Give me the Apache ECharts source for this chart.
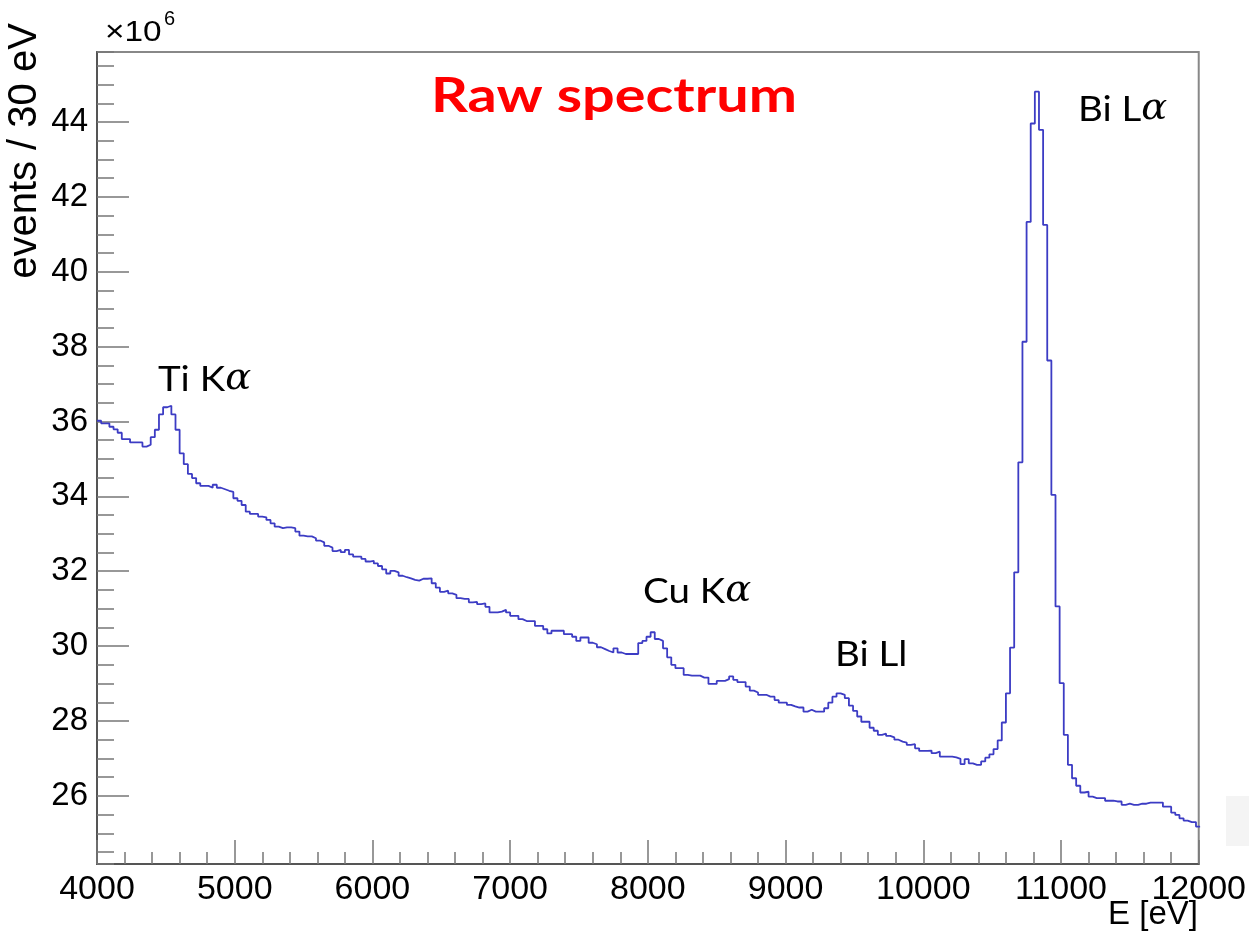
<!DOCTYPE html>
<html>
<head>
<meta charset="utf-8">
<script src="https://cdn.jsdelivr.net/npm/echarts@6/dist/echarts.min.js"></script>
<style>
  html, body { margin: 0; padding: 0; background: #fff; }
  #main { width: 1249px; height: 939px; }
</style>
</head>
<body>
<div id="main"></div>
<script>
// histogram binning (eV)
var binStart = 4000;
var binWidth = 30;

// events per bin, in units of 10^6
var countsLow = [
  36.02, 35.95, 35.95, 35.86, 35.79, 35.70, 35.53, 35.53, 35.44, 35.44,
  35.44, 35.33, 35.38, 35.58, 35.78, 36.19, 36.38, 36.42, 36.19, 35.78,
  35.15, 34.86, 34.60, 34.49, 34.35, 34.28, 34.28, 34.23, 34.31, 34.23,
  34.19, 34.15, 34.12, 33.95, 33.88, 33.77, 33.59, 33.53, 33.53, 33.46,
  33.44, 33.37, 33.28, 33.19, 33.15, 33.17, 33.17, 33.15, 33.06, 32.95,
  32.93, 32.93, 32.88, 32.82, 32.77, 32.68, 32.63, 32.54, 32.57, 32.51,
  32.57, 32.45, 32.39, 32.39, 32.33, 32.26, 32.28, 32.21, 32.14, 32.05,
  31.94, 32.01, 31.97, 31.88, 31.84, 31.81, 31.77, 31.75, 31.80, 31.80,
  31.81, 31.68, 31.56, 31.45, 31.48, 31.41, 31.37, 31.28, 31.26, 31.26,
  31.17, 31.18, 31.12, 31.14, 31.05, 30.90, 30.90
];
var countsMid = [
  30.92, 30.97, 30.90, 30.81, 30.81, 30.72, 30.67, 30.67, 30.67, 30.54,
  30.54, 30.45, 30.34, 30.41, 30.41, 30.41, 30.32, 30.32, 30.25, 30.14,
  30.23, 30.23, 30.09, 30.05, 29.97, 29.92, 29.87, 29.83, 29.94, 29.83,
  29.79, 29.79, 29.79, 29.79, 30.08, 30.14, 30.25, 30.37, 30.19, 30.14,
  29.94, 29.70, 29.50, 29.41, 29.41, 29.23, 29.21, 29.21, 29.21, 29.16,
  29.16, 28.99, 28.99, 29.07, 29.07, 29.12, 29.19, 29.10, 29.04, 29.04,
  28.92, 28.81, 28.76, 28.70, 28.70, 28.65, 28.65, 28.56, 28.49, 28.49,
  28.43, 28.39, 28.36, 28.36, 28.25, 28.30, 28.25, 28.25, 28.25, 28.34,
  28.49, 28.65, 28.74, 28.70, 28.61, 28.41, 28.27, 28.12, 27.98, 27.98,
  27.82, 27.74, 27.63, 27.66, 27.60, 27.56, 27.50, 27.45, 27.42, 27.36
];
var countsHigh = [
  27.38, 27.27, 27.20, 27.20, 27.21, 27.14, 27.18, 27.05, 27.05, 27.05,
  27.03, 26.99, 26.85, 26.98, 26.87, 26.83, 26.83, 26.92, 27.02, 27.11,
  27.25, 27.48, 27.96, 28.74, 29.96, 31.97, 34.91, 38.13, 41.33, 43.96,
  44.81, 43.79, 41.25, 37.63, 34.04, 31.06, 29.01, 27.63, 26.83, 26.47,
  26.27, 26.09, 26.11, 25.98, 25.94, 25.94, 25.94, 25.87, 25.87, 25.85,
  25.85, 25.76, 25.79, 25.76, 25.76, 25.79, 25.79, 25.82, 25.82, 25.82,
  25.82, 25.71, 25.71, 25.55, 25.49, 25.40, 25.34, 25.30, 25.30, 25.18
];

// peak labels
var peakNames = ['Ti K{a|α}', 'Cu K{a|α}', 'Bi Ll', 'Bi L{a|α}'];
var peakPos = [[158, 380], [643, 592], [835, 655], [1078, 110]];

var counts = countsLow.concat(countsMid, countsHigh);
var histData = counts.map(function (v, i) { return [binStart + i * binWidth, v]; });
histData.push([binStart + counts.length * binWidth, counts[counts.length - 1]]);

var chart = echarts.init(document.getElementById('main'));

var tickColor = '#777';
var labelFont = '"Liberation Sans", Arial, sans-serif';

var graphics = [
  // faint box at the right edge of the original image
  { type: 'rect', shape: { x: 1226, y: 796, width: 23, height: 50 }, style: { fill: '#f4f4f4' }, z: -1 },
  { type: 'text', x: 614, y: 97, scaleX: 1.2, style: { text: 'Raw spectrum', font: 'bold 48px Lato, sans-serif', fill: '#ff0000', align: 'center', verticalAlign: 'middle' } },
  { type: 'text', x: 105, y: 33, scaleX: 1.15, style: { text: '×10', font: '29px ' + labelFont, fill: '#000', align: 'left', verticalAlign: 'middle' } },
  { type: 'text', x: 164, y: 19, style: { text: '6', font: '20px ' + labelFont, fill: '#000', align: 'left', verticalAlign: 'middle' } },
  { type: 'text', x: 25, y: 151, rotation: Math.PI / 2, style: { text: 'events / 30 eV', font: '40px ' + labelFont, fill: '#000', align: 'center', verticalAlign: 'middle' } },
  { type: 'text', x: 1198, y: 915, style: { text: 'E [eV]', font: '33px ' + labelFont, fill: '#000', align: 'right', verticalAlign: 'middle' } }
];
peakNames.forEach(function (t, i) {
  graphics.push({
    type: 'text', x: peakPos[i][0], y: peakPos[i][1], scaleX: 1.1,
    style: {
      text: t, font: '35px Lato, sans-serif', fill: '#000', align: 'left', verticalAlign: 'middle',
      rich: { a: { font: 'italic 35px "DejaVu Serif", serif', fill: '#000' } }
    }
  });
});

option = {
  backgroundColor: '#fff',
  animation: false,
  grid: {
    left: 97, right: 49, top: 52, bottom: 75,
    show: true, borderColor: '#888', borderWidth: 2
  },
  xAxis: {
    type: 'value',
    min: 4000, max: 12000, interval: 1000,
    axisLine: { lineStyle: { color: '#555', width: 2 } },
    axisTick: { inside: true, length: 24, lineStyle: { color: tickColor, width: 1.5 } },
    minorTick: { show: true, splitNumber: 5, length: 12, lineStyle: { color: tickColor, width: 1.5 } },
    splitLine: { show: false },
    axisLabel: {
      fontSize: 34, color: '#000', fontFamily: labelFont, margin: 9,
      formatter: function (v) { return String(v); }
    }
  },
  yAxis: [{
    type: 'value',
    min: 24.18, max: 45.87, splitNumber: 10,
    axisLine: { lineStyle: { color: '#555', width: 2 } },
    axisTick: { inside: true, length: 32, lineStyle: { color: tickColor, width: 1.5 } },
    splitLine: { show: false },
    axisLabel: {
      fontSize: 33, color: '#000', fontFamily: labelFont, margin: 9,
      showMinLabel: false, showMaxLabel: false,
      formatter: function (v) { return String(Math.round(v)); }
    }
  }, {
    // minor ticks every 0.5
    type: 'value', position: 'left',
    min: 24.18, max: 45.87, splitNumber: 43,
    axisLine: { show: false },
    axisTick: { inside: true, length: 17, lineStyle: { color: tickColor, width: 1.5 } },
    axisLabel: { show: false },
    splitLine: { show: false }
  }],
  graphic: graphics,
  series: [{
    type: 'line',
    step: 'end',
    data: histData,
    symbol: 'none',
    clip: true,
    lineStyle: { color: '#3c3cc4', width: 1.8 }
  }]
};
chart.setOption(option);
</script>
</body>
</html>
